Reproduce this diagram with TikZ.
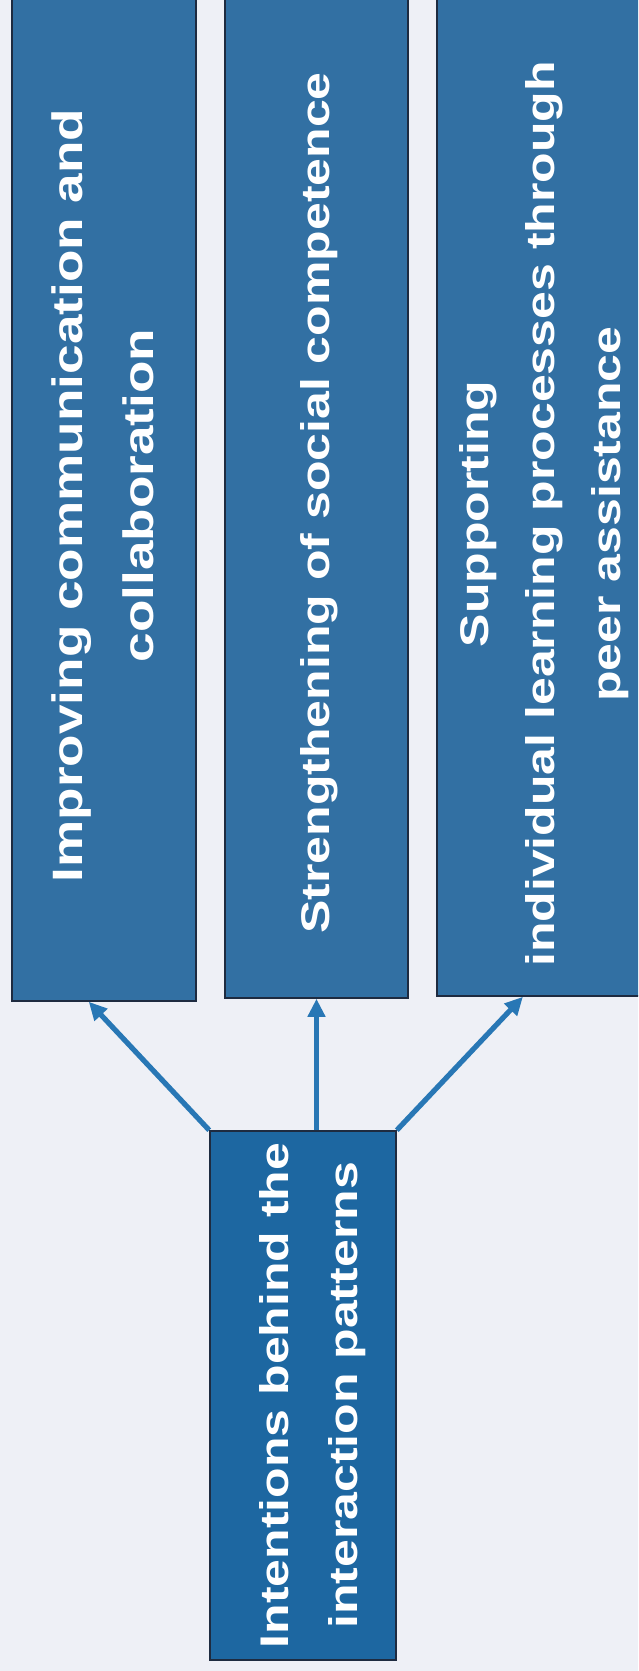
\documentclass[tikz,border=0pt]{standalone}
\usepackage{fontspec}
\setmainfont{Liberation Sans}
\usepackage{graphicx}
\usetikzlibrary{arrows.meta,calc}
\definecolor{bg}{HTML}{EEF0F6}
\definecolor{boxblue}{HTML}{3270A3}
\definecolor{mainblue}{HTML}{1D67A1}
\definecolor{edge}{HTML}{1E2B40}
\definecolor{arrowblue}{HTML}{2877B5}
\newcommand{\vtext}[1]{\rotatebox{90}{\scalebox{1.25}[1]{\begin{tabular}{@{}c@{}}#1\end{tabular}}}}
\begin{document}
\begin{tikzpicture}[x=0.5pt,y=-0.5pt,
  box/.style={draw=edge, line width=0.8pt, fill=boxblue, text=white,
    font=\bfseries, inner sep=0pt},
  arr/.style={draw=arrowblue, line width=2.6pt, -{Triangle[length=9pt,width=8.5pt]}}]
\path[fill=bg] (0,0) rectangle (638,1671);
\useasboundingbox (0,0) rectangle (638,1671);
\clip (0,0) rectangle (638,1671);

\node[box, minimum width=92pt, minimum height=510.5pt] (b1) at (104,490.5)
  {\rotatebox{90}{\fontsize{21.25}{35}\selectfont\scalebox{1.25}[1]{\begin{tabular}{@{}c@{}}Improving communication and\\collaboration\end{tabular}}\hspace*{5pt}}};
\node[box, minimum width=91.5pt, minimum height=509pt] (b2) at (316.5,489)
  {\rotatebox{90}{\fontsize{20}{32}\selectfont\scalebox{1.25}[1]{\begin{tabular}{@{}c@{}}Strengthening of social competence\end{tabular}}\hspace*{14pt}}};
\node[box, minimum width=104pt, minimum height=508pt] (b3) at (541,488)
  {\rotatebox{90}{\fontsize{20}{33}\selectfont\scalebox{1.25}[1]{\begin{tabular}{@{}c@{}}Supporting\\individual learning processes through\\peer assistance\end{tabular}}\hspace*{26pt}}};
\node[box, fill=mainblue, minimum width=93pt, minimum height=264.5pt] (bot) at (303,1395.5)
  {\hspace*{6pt}\rotatebox{90}{\fontsize{20}{34.5}\selectfont\scalebox{1.25}[1]{\begin{tabular}{@{}c@{}}Intentions behind the\\interaction patterns\end{tabular}}}};

\draw[arr] (bot.north west) -- ($(b1.south west)!0.418!(b1.south east)$);
\draw[arr] (bot.north -| b2.south) -- (b2.south);
\draw[arr] (bot.north east) -- ($(b3.south west)!0.4135!(b3.south east)$);
\end{tikzpicture}
\end{document}
